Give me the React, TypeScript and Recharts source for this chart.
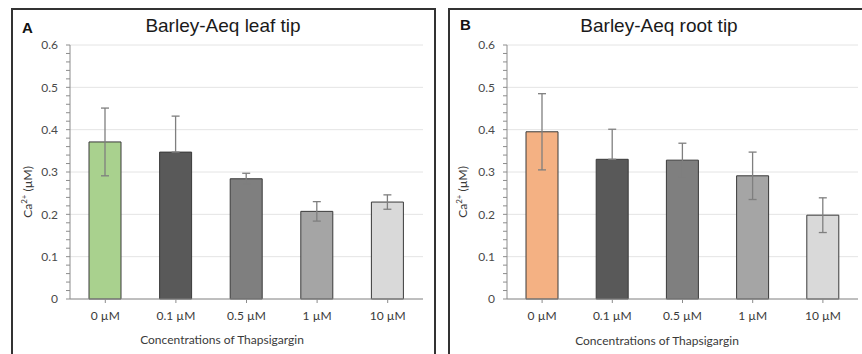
import React from "react";
import { BarChart, Bar, XAxis, YAxis, CartesianGrid, ErrorBar, Cell } from "recharts";

const categories = ["0 µM", "0.1 µM", "0.5 µM", "1 µM", "10 µM"];

const leafMean = [0.371, 0.347, 0.284, 0.207, 0.229];
const leafErrLow = [0.08, 0, 0.013, 0.023, 0.017];
const leafErrHigh = [0.08, 0.085, 0.013, 0.023, 0.017];
const rootMean = [0.395, 0.33, 0.328, 0.291, 0.198];
const rootErrLow = [0.09, 0, 0.04, 0.056, 0.041];
const rootErrHigh = [0.09, 0.071, 0.04, 0.056, 0.041];

const leafColors = ["#a9d18e", "#595959", "#7f7f7f", "#a5a5a5", "#d9d9d9"];
const rootColors = ["#f4b183", "#595959", "#7f7f7f", "#a5a5a5", "#d9d9d9"];

const majorTicks = [0, 0.1, 0.2, 0.3, 0.4, 0.5, 0.6];
const minorTicks = [
  0, 0.02, 0.04, 0.06, 0.08, 0.1, 0.12, 0.14, 0.16, 0.18, 0.2, 0.22, 0.24, 0.26, 0.28, 0.3,
  0.32, 0.34, 0.36, 0.38, 0.4, 0.42, 0.44, 0.46, 0.48, 0.5, 0.52, 0.54, 0.56, 0.58, 0.6,
];

const AXIS = "#8c8c8c";
const TXT = "#4a4a4a";
const FONT = "Lato, 'Open Sans', sans-serif";

// only label the 0.1 steps, the rest just get a tick mark
function YTick(props: any) {
  const v = props.payload?.value;
  if (!majorTicks.includes(v)) return <g />;
  return (
    <text x={props.x} y={props.y} dy="0.355em" textAnchor="end" fill={TXT} fontSize={12} fontFamily={FONT}>
      {String(v)}
    </text>
  );
}

// grid line only where a labelled tick sits
function GridLine(props: any) {
  const { x1, x2, y1, y2, index } = props;
  if (index % 5 !== 0) return <g key={props.key} />;
  return <line key={props.key} x1={x1} x2={x2} y1={y1} y2={y2} stroke="#e4e4e4" strokeWidth={1} />;
}

function Panel({ mean, errLow, errHigh, colors, width, left, marginLeft, marginRight }: any) {
  const data = categories.map((name, i) => ({ name, mean: mean[i], err: [errLow[i], errHigh[i]] }));
  return (
    <div style={{ position: "absolute", left, top: 0 }}>
      <BarChart
        width={width}
        height={354}
        data={data}
        barSize={32}
        margin={{ top: 45, right: marginRight, left: marginLeft, bottom: 25 }}
        style={{ fontFamily: FONT }}
      >
        <CartesianGrid vertical={false} horizontal={GridLine} />
        <YAxis
          width={40}
          domain={[0, 0.6]}
          ticks={minorTicks}
          interval={0}
          tickSize={4}
          tickMargin={8}
          tick={<YTick />}
          tickLine={{ stroke: AXIS }}
          axisLine={{ stroke: AXIS }}
        />
        <XAxis
          dataKey="name"
          height={30}
          tickSize={4}
          tickMargin={8}
          interval={0}
          tick={{ fill: "#3a3a3a", fontSize: 12 }}
          tickLine={{ stroke: AXIS }}
          axisLine={{ stroke: AXIS }}
        />
        <Bar dataKey="mean" stroke="#3a3a3a" strokeWidth={1} isAnimationActive={false}>
          {data.map((_, i) => (
            <Cell key={i} fill={colors[i]} />
          ))}
          <ErrorBar dataKey="err" direction="y" width={4} stroke="#7f7f7f" strokeWidth={1.3} isAnimationActive={false} />
        </Bar>
      </BarChart>
    </div>
  );
}

const abs = (s: any): any => ({ position: "absolute", ...s });

function YLabel({ cx, cy }: { cx: number; cy: number }) {
  return (
    <div
      style={abs({
        left: cx,
        top: cy,
        transform: "translate(-50%, -50%) rotate(-90deg)",
        whiteSpace: "nowrap",
        fontFamily: FONT,
        fontSize: 12,
        color: "#3a3a3a",
      })}
    >
      Ca<sup style={{ fontSize: 8 }}>2+</sup> (µM)
    </div>
  );
}

function Centered({ cx, top, children, style }: any) {
  return (
    <div style={abs({ left: cx, top, transform: "translateX(-50%)", whiteSpace: "nowrap", ...style })}>
      {children}
    </div>
  );
}

export default function App() {
  const titleStyle = { fontFamily: "'Liberation Sans', Arial, sans-serif", fontSize: 19, color: "#1a1a1a", lineHeight: "22px" };
  const letterStyle = { fontFamily: "'Liberation Sans', Arial, sans-serif", fontSize: 15, fontWeight: 700, color: "#111", lineHeight: "18px" };
  const xTitleStyle = { fontFamily: FONT, fontSize: 12, color: "#3a3a3a", lineHeight: "14px" };
  return (
    <div style={{ position: "fixed", left: 0, top: 0, width: 862, height: 354, overflow: "hidden", background: "#fff" }}>
      <div style={abs({ left: 11, top: 8, width: 425, height: 400, border: "2px solid #333", boxSizing: "border-box" })} />
      <div style={abs({ left: 448, top: 8, width: 430, height: 400, border: "2px solid #333", boxSizing: "border-box" })} />

      <Panel mean={leafMean} errLow={leafErrLow} errHigh={leafErrHigh} colors={leafColors} width={436} left={0} marginLeft={30} marginRight={13} />
      <Panel mean={rootMean} errLow={rootErrLow} errHigh={rootErrHigh} colors={rootColors} width={426} left={436} marginLeft={31} marginRight={4} />

      <div style={abs({ left: 22, top: 19, ...letterStyle })}>A</div>
      <div style={abs({ left: 460, top: 16, ...letterStyle })}>B</div>
      <Centered cx={223} top={15} style={titleStyle}>Barley-Aeq leaf tip</Centered>
      <Centered cx={659} top={15} style={titleStyle}>Barley-Aeq root tip</Centered>
      <YLabel cx={27} cy={192} />
      <YLabel cx={462} cy={192} />
      <Centered cx={222} top={333} style={xTitleStyle}>Concentrations of Thapsigargin</Centered>
      <Centered cx={657} top={334} style={xTitleStyle}>Concentrations of Thapsigargin</Centered>
    </div>
  );
}
